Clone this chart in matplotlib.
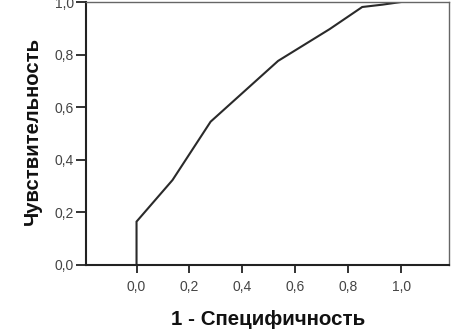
import matplotlib
matplotlib.use("Agg")
import matplotlib.pyplot as plt
from matplotlib.ticker import FuncFormatter

plt.rcParams['font.family'] = ['Liberation Sans', 'DejaVu Sans']

# ROC curve
fpr = [0.0, 0.0, 0.136, 0.28, 0.535, 0.73, 0.853, 0.93, 1.0]
tpr = [0.0, 0.165, 0.323, 0.545, 0.776, 0.897, 0.981, 0.99, 1.0]

ticks = [0.0, 0.2, 0.4, 0.6, 0.8, 1.0]

fig = plt.figure(figsize=(4.51, 3.29), dpi=100)
ax = fig.add_axes([86 / 451, 1 - 265 / 329, (449 - 86) / 451, (265 - 2) / 329])

ax.plot(fpr, tpr, color='#2a2a2a', lw=1.5, solid_joinstyle='miter')

ax.set_xlim(-0.191, 1.181)
ax.set_ylim(0, 1)
ax.set_xticks(ticks)
ax.set_yticks(ticks)
fmt = FuncFormatter(lambda v, p: f"{v:.1f}".replace('.', ','))
ax.xaxis.set_major_formatter(fmt)
ax.yaxis.set_major_formatter(fmt)
ax.tick_params(axis='both', direction='out', width=1.3, color='#222222',
               labelsize=10, labelcolor='#444444')
ax.tick_params(axis='x', length=6, pad=5)
ax.tick_params(axis='y', length=7, pad=1.5)

for side in ['left', 'bottom']:
    ax.spines[side].set_linewidth(1.5)
    ax.spines[side].set_color('#222222')
for side in ['top', 'right']:
    ax.spines[side].set_linewidth(1.0)
    ax.spines[side].set_color('#666666')

ax.set_xlabel('1 - Специфичность', fontsize=14.8, fontweight='bold', color='#111111')
ax.set_ylabel('Чувствительность', fontsize=14.6, fontweight='bold', color='#111111')
ax.xaxis.set_label_coords(0.503, -0.209)
ax.yaxis.set_label_coords(-0.149, 0.51)
ax.xaxis.label.set_va('center')
ax.yaxis.label.set_va('center')

fig.savefig('out.png', dpi=100)
